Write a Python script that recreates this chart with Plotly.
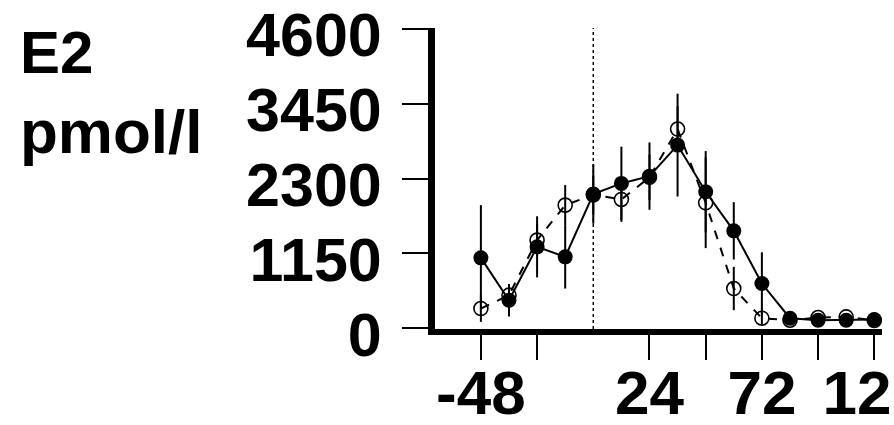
import plotly.graph_objects as go

# ---- data ----
hours = [-48, -36, -24, -12, 0, 12, 24, 36, 48, 60, 72, 84, 96, 108, 120]
filled_vals = [1082, 431, 1251, 1097, 2062, 2226, 2338, 2815, 2097, 1497, 687, 154, 123, 123, 134]
filled_err = [810, 250, 470, 487, 456, 564, 518, 790, 626, 441, 480, 60, 40, 40, 40]
open_vals = [303, 508, 1354, 1892, 2050, 1979, 2320, 3062, 1928, 610, 154, 123, 164, 174, 120]
open_err = [205, 170, 250, 308, 300, 344, 350, 350, 697, 333, 100, 40, 40, 40, 40]

x_tickvals = [-48, -24, 24, 48, 72, 96, 120]
x_ticktext = ["-48", "", "24", "", "72", "", "120"]
y_tickvals = [0, 1150, 2300, 3450, 4600]
y_ticktext = ["0", "1150", "2300", "3450", "4600"]
dose_time = 0

FONT = "Liberation Sans, Arial, sans-serif"

fig = go.Figure()

fig.add_trace(go.Scatter(
    x=hours, y=open_vals, mode="lines+markers",
    line=dict(color="black", width=2, dash="dash"),
    marker=dict(symbol="circle-open", size=14, color="black", line=dict(width=1.6)),
    error_y=dict(type="data", array=open_err, visible=True, color="black", thickness=2, width=0),
    showlegend=False,
))
fig.add_trace(go.Scatter(
    x=hours, y=filled_vals, mode="lines+markers",
    line=dict(color="black", width=2),
    marker=dict(symbol="circle", size=15, color="black"),
    error_y=dict(type="data", array=filled_err, visible=True, color="black", thickness=2, width=0),
    showlegend=False,
))

fig.add_vline(x=dose_time, line=dict(color="black", width=1.5, dash="dot"))

fig.update_layout(
    width=894, height=425,
    margin=dict(l=435, r=12, t=28, b=96, autoexpand=False),
    paper_bgcolor="white", plot_bgcolor="white",
    font=dict(family=FONT, color="black"),
)
fig.update_xaxes(
    range=[-67.6, 123.3], automargin=False, ticklabeloverflow="allow",
    showline=True, linewidth=6, linecolor="black",
    ticks="outside", ticklen=25, tickwidth=2, tickcolor="black",
    tickmode="array", tickvals=x_tickvals, ticktext=x_ticktext,
    tickfont=dict(size=62, family=FONT, weight="bold", color="black"),
    ticklabelstandoff=-20,
    showgrid=False, zeroline=False,
)
fig.update_yaxes(
    range=[-12, 4615], automargin=False, ticklabeloverflow="allow",
    showline=True, linewidth=7, linecolor="black",
    ticks="outside", ticklen=26, tickwidth=2, tickcolor="black",
    tickmode="array", tickvals=y_tickvals, ticktext=y_ticktext,
    tickfont=dict(size=61, family=FONT, weight="bold", color="black"),
    ticklabelshift=6, ticklabelstandoff=8,
    showgrid=False, zeroline=False,
)

fig.add_annotation(text="E2", xref="paper", yref="paper", x=-0.932, y=0.920,
                   xanchor="left", yanchor="middle", showarrow=False,
                   font=dict(size=60, family=FONT, weight="bold", color="black"))
fig.add_annotation(text="pmol/l", xref="paper", yref="paper", x=-0.932, y=0.655,
                   xanchor="left", yanchor="middle", showarrow=False,
                   font=dict(size=62, family=FONT, weight="bold", color="black"))

fig.write_html("out.html")
